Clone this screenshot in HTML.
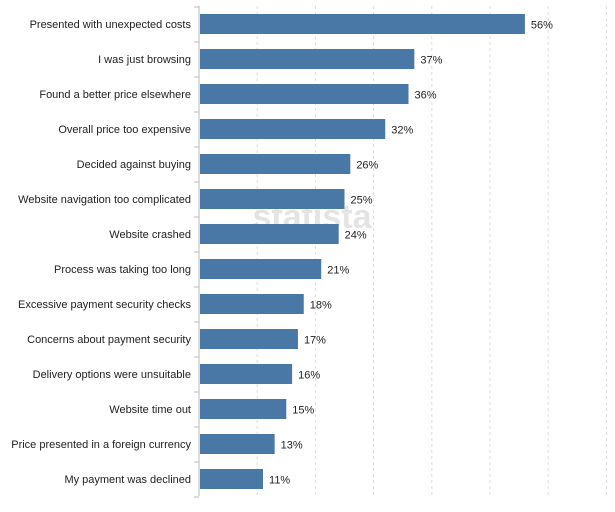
<!DOCTYPE html>
<html><head><meta charset="utf-8"><style>
body{margin:0;background:#fff;width:615px;height:507px;overflow:hidden}
svg text{font-family:"Liberation Sans",sans-serif;fill:#222}
</style></head><body>
<svg id="chart" width="615" height="507" xmlns="http://www.w3.org/2000/svg">
<text x="312" y="228" font-size="34" font-weight="bold" fill="#e6e6e6" style="fill:#e4e4e4" text-anchor="middle">statista</text>
<g id="grid"></g><g id="bars"></g><g id="labels"></g>
</svg>
<script>
const categories=["Presented with unexpected costs","I was just browsing","Found a better price elsewhere","Overall price too expensive","Decided against buying","Website navigation too complicated","Website crashed","Process was taking too long","Excessive payment security checks","Concerns about payment security","Delivery options were unsuitable","Website time out","Price presented in a foreign currency","My payment was declined"];
const values=[56,37,36,32,26,25,24,21,18,17,16,15,13,11];
const gridTicks=[10,20,30,40,50,60,70];
const NS="http://www.w3.org/2000/svg";
const x0=199,pxPer=5.82,y0=24,pitch=35,bh=20;
const xs=v=>x0+v*pxPer, ys=i=>y0+i*pitch;
function mk(t,a,p){const e=document.createElementNS(NS,t);for(const k in a)e.setAttribute(k,a[k]);document.getElementById(p).appendChild(e);return e;}
gridTicks.forEach(t=>{
 const l=mk('line',{x1:xs(t),x2:xs(t),y1:6,y2:496,stroke:'#ddd','stroke-dasharray':'3,3'},'grid');
 
 
});
const ax=mk('line',{x1:x0,x2:x0,y1:6,y2:496,stroke:'#bbb'},'grid');


for(let i=0;i<=categories.length;i++){
 const tk=mk('line',{x1:x0-5,x2:x0,y1:ys(i)-pitch/2+0.5,y2:ys(i)-pitch/2+0.5,stroke:'#bbb'},'grid');
 
 
}
categories.forEach((c,i)=>{
 const r=mk('rect',{x:x0+1,y:ys(i)-bh/2,width:xs(values[i])-x0-1,height:bh,fill:'#4a78a6'},'bars');
 
 
 const t=mk('text',{x:191,y:ys(i)+4,'font-size':11,'text-anchor':'end'},'labels');t.textContent=c;
 
 
 const v=mk('text',{x:xs(values[i])+6,y:ys(i)+4.5,'font-size':11},'labels');v.textContent=values[i]+'%';
 
 
});
</script>
</body></html>
